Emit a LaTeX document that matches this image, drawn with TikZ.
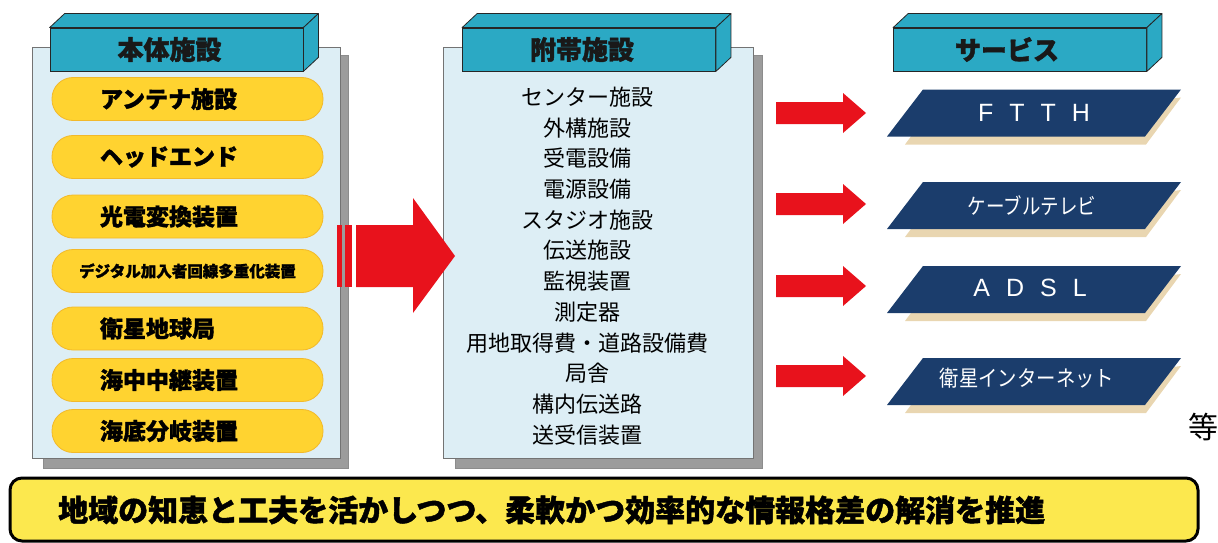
\documentclass[tikz,border=0pt]{standalone}
\usepackage{fontspec}
\usepackage{graphicx}
\setmainfont{Liberation Sans}
\newfontfamily\jp[BoldFeatures={FakeBold=1.5}]{Noto Sans CJK JP}
\usetikzlibrary{calc}
\definecolor{panelbg}{HTML}{DDEEF5}
\definecolor{shadowgray}{HTML}{9C9C9C}
\definecolor{headteal}{HTML}{2BA9C4}
\definecolor{pillfill}{HTML}{FFD330}
\definecolor{pilledge}{HTML}{F2B92A}
\definecolor{navyblue}{HTML}{1B3D6C}
\definecolor{beige}{HTML}{E9D6B1}
\definecolor{arrred}{HTML}{E8121C}
\definecolor{bannery}{HTML}{FCE84E}
\tikzset{
  panel/.style={draw=black!55, fill=panelbg, line width=0.8pt},
  pshadow/.style={fill=shadowgray, draw=black!45, line width=0.6pt},
  headfront/.style={draw=black!85, fill=headteal, line width=0.8pt, minimum width=253pt, minimum height=43pt, inner sep=0pt},
  headface/.style={draw=black!85, fill=headteal, line width=0.8pt, line join=round},
  headtext/.style={font=\jp\bfseries\fontsize{26}{26}\selectfont, text=black!90, inner sep=0pt},
  pill/.style={draw=pilledge, fill=pillfill, line width=0.8pt, rounded corners=21pt, minimum width=271pt, minimum height=43pt, inner xsep=48pt, inner ysep=0pt, text width=175pt, align=left, font=\jp\bfseries\fontsize{23}{23}\selectfont},
  smallpill/.style={pill, inner xsep=0pt, text width=271pt, align=center, font=\jp\bfseries\fontsize{15.5}{15.5}\selectfont},
  listtext/.style={font=\jp\fontsize{22}{30.7}\selectfont, align=center, inner sep=0pt},
  redarrow/.style={fill=arrred},
  svcbox/.style={fill=navyblue},
  svcshadow/.style={fill=beige},
  svctext/.style={text=white, inner sep=0pt},
  banner/.style={draw=black, line width=3pt, fill=bannery, rounded corners=12pt, minimum width=1188pt, minimum height=63pt, inner sep=0pt},
  bannertext/.style={font=\jp\bfseries\fontsize{30}{30}\selectfont, inner sep=0pt, anchor=west},
}
\begin{document}
\begin{tikzpicture}[x=1pt,y=-1pt]
\useasboundingbox (0,0) rectangle (1218,543);

% ---- left panel ----
\fill[pshadow] (43,55) rectangle (348,468);
\draw[panel] (32,47) rectangle (340,458);
% ---- middle panel ----
\fill[pshadow] (455,55) rectangle (762,468);
\draw[panel] (443,47) rectangle (753,458);

% ---- headers ----
\foreach \cx/\nm/\txt/\tdx in {176.5/h1/本体施設/-7, 589/h2/附帯施設/-7, 1020/h3/サービス/-13}{
  \node[headfront] (\nm) at (\cx,49.5) {};
  \filldraw[headface] (\nm.north west) -- ++(15,-14) -- ($(\nm.north east)+(15,-14)$) -- (\nm.north east) -- cycle;
  \filldraw[headface] (\nm.north east) -- ++(15,-14) -- ($(\nm.south east)+(15,-14)$) -- (\nm.south east) -- cycle;
  \node[headtext] (\nm t) at ($(\nm.center)+(\tdx,0)$) {\txt};
}

% ---- pills ----
\node[pill] (p1) at (187.5,99) {アンテナ施設};
\node[pill] (p2) at (187.5,157) {ヘッドエンド};
\node[pill] (p3) at (187.5,216.5) {光電変換装置};
\node[smallpill] (p4) at (187.5,271) {デジタル加入者回線多重化装置};
\node[pill] (p5) at (187.5,328.5) {衛星地球局};
\node[pill] (p6) at (187.5,380) {海中中継装置};
\node[pill] (p7) at (187.5,431) {海底分岐装置};

% ---- middle list ----
\node[listtext] (lst) at (587,266) {センター施設\\外構施設\\受電設備\\電源設備\\スタジオ施設\\伝送施設\\監視装置\\測定器\\用地取得費・道路設備費\\局舎\\構内伝送路\\送受信装置};

% ---- big arrow ----
\fill[redarrow] (337,225) rectangle (342,287);
\fill[redarrow] (345,225) rectangle (352,287);
\fill[redarrow] (356,225) -- (413,225) -- (413,198) -- (455,256) -- (413,313) -- (413,287) -- (356,287) -- cycle;

% ---- services ----
\foreach \cy/\nm in {113/s1, 205.5/s2, 289.5/s3, 381.5/s4}{
  \fill[svcshadow] (1181,\cy-15.5) -- (1146,\cy+31.5) -- (905,\cy+31.5) -- (915,\cy+18) -- cycle;
  \fill[svcbox] (923,\cy-23.5) -- (1181,\cy-23.5) -- (1145,\cy+23.5) -- (887,\cy+23.5) -- cycle;
  \coordinate (\nm) at (1034,\cy);
}
\node[svctext, font=\fontsize{25}{25}\selectfont] (t1) at (s1) {F\hspace{16pt}T\hspace{16pt}T\hspace{16pt}H};
\node[svctext, font=\jp\fontsize{22}{22}\selectfont] (t2) at ($(s2)+(-2,0)$) {\scalebox{0.84}[1]{ケーブルテレビ}};
\node[svctext, font=\fontsize{25}{25}\selectfont] (t3) at ($(s3)+(-4,-2)$) {A\hspace{16pt}D\hspace{16pt}S\hspace{16pt}L};
\node[svctext, font=\jp\fontsize{22}{22}\selectfont] (t4) at ($(s4)+(-7,-3)$) {\scalebox{0.88}[1]{衛星インターネット}};

% ---- small arrows ----
\foreach \t in {113, 204, 286, 376}{
  \fill[redarrow] (776,\t-11) -- (843,\t-11) -- (843,\t-20) -- (866,\t) -- (843,\t+20) -- (843,\t+11) -- (776,\t+11) -- cycle;
}

\node[font=\jp\fontsize{30}{30}\selectfont, inner sep=0pt] (etc) at (1203,427) {等};

% ---- banner ----
\node[banner] (bn) at (604,509.5) {};
\node[bannertext] (bnt) at (58,510) {地域の知恵と工夫を活かしつつ、柔軟かつ効率的な情報格差の解消を推進};
\end{tikzpicture}
\end{document}
